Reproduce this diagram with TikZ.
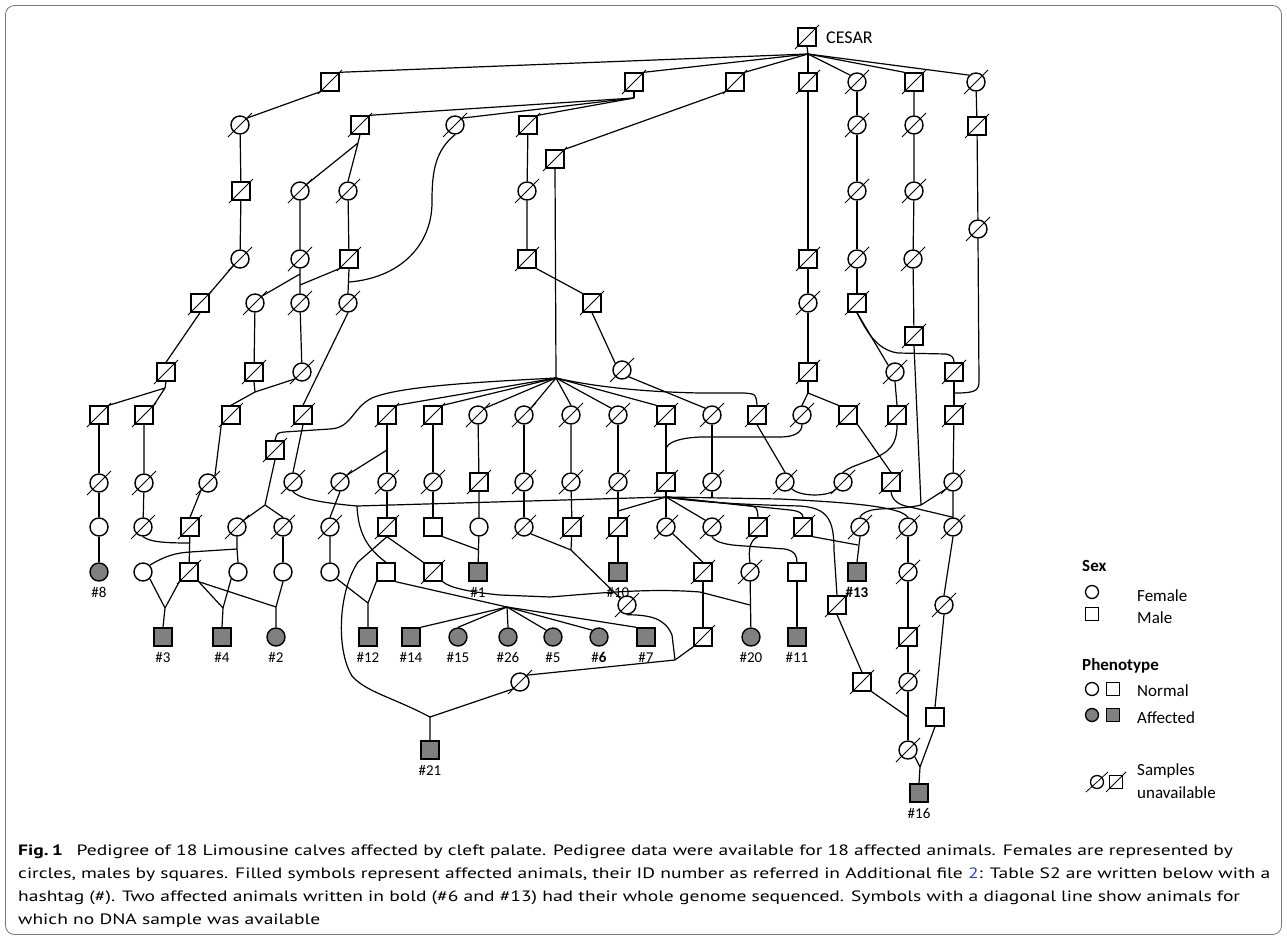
\documentclass[tikz,border=0pt]{standalone}
\usepackage{fontspec}
\setmainfont{Carlito}
\newfontfamily\capfont{PT Sans}
\usepackage{graphicx}
\usetikzlibrary{calc}
\pgfdeclarelayer{bg}
\pgfsetlayers{bg,main}
\definecolor{aff}{RGB}{128,128,128}
\definecolor{linkblue}{RGB}{40,70,210}
\definecolor{framegray}{RGB}{120,120,120}
\tikzset{
  sym/.style={draw=black, line width=1.4pt, inner sep=0pt, minimum size=18pt, fill=white},
  femsym/.style={sym, circle},
  malsym/.style={sym, rectangle},
  slashln/.style={line width=0.8pt},
  ln/.style={line width=1.2pt, line join=round},
  lab/.style={font=\fontsize{15}{15}\selectfont, inner sep=0pt},
  legtxt/.style={font=\fontsize{17}{17}\selectfont, inner sep=0pt, anchor=west},
  legsym/.style={draw=black, line width=1.3pt, inner sep=0pt, minimum size=13pt, fill=white},
}
\newcommand\nF[2]{\node[femsym] (#1) at (#2) {};}
\newcommand\nFx[2]{\node[femsym] (#1) at (#2) {};\draw[slashln] ($(#1)+(-12,12)$) -- ($(#1)+(12,-12)$);}
\newcommand\nFa[3]{\node[femsym, fill=aff] (#1) at (#2) {};\node[lab] (#1l) at ($(#1)+(0,20)$) {#3};}
\newcommand\nM[2]{\node[malsym] (#1) at (#2) {};}
\newcommand\nMx[2]{\node[malsym] (#1) at (#2) {};\draw[slashln] ($(#1)+(-12,12)$) -- ($(#1)+(12,-12)$);}
\newcommand\nMa[3]{\node[malsym, fill=aff] (#1) at (#2) {};\node[lab] (#1l) at ($(#1)+(0,20)$) {#3};}
\begin{document}
\begin{tikzpicture}[x=1pt,y=-1pt]
\useasboundingbox (0,0) rectangle (1287,940);
% frame
\draw[framegray, line width=0.8pt, rounded corners=9pt] (5.5,5.5) rectangle (1281.5,934.5);

% ---------- nodes ----------
\nMx{cesar}{807,37}
\node[font=\fontsize{18}{18}\selectfont, anchor=west, inner sep=0pt] (cesarl) at (826,38) {CESAR};
% row a
\nMx{a1}{330,82} \nMx{a2}{634,82} \nMx{a3}{735,82} \nMx{a4}{808,82}
\nFx{a5}{857,82} \nMx{a6}{914,82} \nFx{a7}{976,82}
% row b
\nFx{b1}{240,125} \nMx{b2}{360,125} \nFx{b3}{455,125} \nMx{b4}{528,125}
\nFx{b5}{857,125} \nFx{b6}{914,125} \nMx{b7}{977,126} \nMx{b8}{555,159}
% row c
\nMx{c1}{241,191} \nFx{c2}{300,191} \nFx{c3}{348,191} \nFx{c4}{527,191}
\nFx{c5}{857,191} \nFx{c6}{914,191} \nFx{c7}{978,229}
% row d
\nFx{d1}{240,259} \nFx{d2}{300,259} \nMx{d3}{349,259} \nMx{d4}{527,259}
\nMx{d5}{808,259} \nFx{d6}{857,259} \nFx{d7}{913,259}
% row e
\nMx{e1}{200,303} \nFx{e2}{255,303} \nFx{e3}{300,303} \nFx{e4}{348,303}
\nMx{e5}{592,303} \nFx{e6}{808,303} \nMx{e7}{857,303} \nMx{e8}{914,336}
% row f
\nMx{f1}{166,372} \nMx{f2}{254,372} \nFx{f3}{302,372} \nFx{f4}{622,370}
\nMx{f5}{808,372} \nFx{f6}{895,372} \nMx{f7}{954,372}
% row g
\nMx{g1}{99,415} \nMx{g2}{144,415} \nMx{g3}{231,415} \nMx{g4}{303,415}
\nMx{g5}{387,415} \nMx{g6}{433,415} \nFx{g7}{478,415} \nFx{g8}{524,415}
\nFx{g9}{571,415} \nFx{g10}{618,415} \nMx{g11}{666,415} \nFx{g12}{712,415}
\nMx{g13}{757,415} \nFx{g14}{802,415} \nMx{g15}{848,415} \nMx{g16}{897,415}
\nMx{g17}{954,415}
\nMx{h0}{275,450}
% row h
\nFx{h1}{99,483} \nFx{h2}{144,483} \nFx{h3}{208,483} \nFx{h4}{293,482}
\nFx{h5}{340,482} \nFx{h6}{387,482} \nFx{h7}{433,482} \nMx{h8}{479,482}
\nFx{h9}{524,482} \nFx{h10}{571,482} \nFx{h11}{618,482} \nMx{h12}{666,482}
\nFx{h13}{712,482} \nFx{h14}{785,482} \nFx{h15}{843,482} \nMx{h16}{891,482}
\nFx{h17}{953,482}
% row i
\nF{i1}{99,527} \nFx{i2}{143,527} \nMx{i3}{190,527} \nFx{i4}{237,527}
\nFx{i5}{283,527} \nFx{i6}{330,527} \nMx{i7}{387,527} \nM{i8}{433,527}
\nF{i9}{479,527} \nFx{i10}{524,527} \nMx{i11}{572,527} \nMx{i12}{618,527}
\nFx{i13}{666,527} \nFx{i14}{712,527} \nMx{i15}{758,527} \nMx{i16}{803,527}
\nFx{i17}{860,527} \nFx{i18}{908,527} \nFx{i19}{953,527}
% row j
\nFa{j1}{99,572}{\#8} \nF{j2}{143,572} \nMx{j3}{189,572} \nF{j4}{238,572}
\nF{j5}{283,572} \nF{j6}{330,572} \nM{j7}{386,572} \nMx{j8}{433,572}
\nMa{j9}{478,572}{\#1} \nMa{j10}{618,572}{\#10} \nMx{j11}{703,572}
\nFx{j12}{750,572} \nM{j13}{797,572} \nMa{j14}{857,572}{\textbf{\#13}}
\nFx{j15}{908,572}
\nFx{k1}{627,605} \nMx{k2}{837,605} \nFx{k3}{944,605}
% row l
\nMa{l1}{163,637}{\#3} \nMa{l2}{222,637}{\#4} \nFa{l3}{276,637}{\#2}
\nMa{l4}{368,637}{\#12} \nMa{l5}{411,637}{\#14} \nFa{l6}{458,637}{\#15}
\nFa{l7}{508,637}{\#26} \nFa{l8}{553,637}{\#5} \nFa{l9}{599,637}{\#\textbf{6}}
\nMa{l10}{646,637}{\#7} \nMx{l11}{703,637} \nFa{l12}{751,637}{\#20}
\nMa{l13}{797,637}{\#11} \nMx{l14}{908,637}
\nFx{m1}{520,682} \nMx{m2}{862,682} \nFx{m3}{908,682} \nM{m4}{935,717}
\nFx{m5}{908,750}
\nMa{n1}{430,750}{\#21} \nMa{n2}{919,793}{\#16}

% ---------- junctions ----------
\coordinate (cf) at (808,54);
\coordinate (a2j) at (634,98);
\coordinate (b2j) at (358,143);
\coordinate (d2a) at (300,274);
\coordinate (d2b) at (300,285);
\coordinate (d3j) at (349,282);
\coordinate (f1j) at (165,388);
\coordinate (f2j) at (255,392);
\coordinate (f5j) at (808,393);
\coordinate (f7j) at (954,393);
\coordinate (fan) at (556,378);
\coordinate (g5j) at (387,450);
\coordinate (h0j) at (265,505);
\coordinate (hz) at (357,506);
\coordinate (P) at (666,497);
\coordinate (g11j) at (666,450);
\coordinate (i12j) at (618,511);
\coordinate (h13j) at (712,498);
\coordinate (i3j) at (190,543);
\coordinate (i4j) at (237,549);
\coordinate (i9j) at (479,550);
\coordinate (i11j) at (571,550);
\coordinate (J) at (921,505);
\coordinate (i17j) at (858,545);
\coordinate (l1j) at (165,608);
\coordinate (l2j) at (223,608);
\coordinate (l3j) at (276,607);
\coordinate (l4j) at (368,603);
\coordinate (sj) at (507,607);
\coordinate (l12j) at (750,605);
\coordinate (m1j) at (675,660);
\coordinate (n1j) at (430,717);
\coordinate (m3j) at (908,717);
\coordinate (n2j) at (920,767);

% ---------- connectors ----------
\begin{pgfonlayer}{bg}
\draw[ln] (cesar.south) -- (cf);
\foreach \t in {a1.north east,a2.north east,a3.north east,a4.north,a5.north west,a6.north west,a7.north west}
  \draw[ln] (cf) -- (\t);
\draw[ln] (a1.south west) -- (b1.north east);
\draw[ln] (a2.south) -- (a2j);
\foreach \t in {b2.north east,b3.north east,b4.north east} \draw[ln] (a2j) -- (\t);
\draw[ln] (a3.south west) -- (b8.north east);
\draw[ln] (a4.south) -- (d5.north) (d5.south) -- (e6.north) (e6.south) -- (f5.north) (f5.south) -- (f5j);
\draw[ln] (f5j) -- (g14.north) (f5j) -- (g15.north west);
\draw[ln] (a5) -- (b5) -- (c5) -- (d6) -- (e7);
\draw[ln] (a6) -- (b6) -- (c6) -- (d7) -- (e8);
\draw[ln] (a7) -- (b7) -- (c7);
\draw[ln] (c7.south) -- (979,382) .. controls (979,392) and (972,393) .. (f7j);
\draw[ln] (f7.south) -- (g17.north);
\draw[ln] (e7.south) .. controls (866,330) and (876,350) .. (898,353) -- (946,354) .. controls (952,355) and (954,358) .. (f7.north);
\draw[ln] (e7.south) -- (f6.north west);
\draw[ln] (e8.south) -- (J);
\draw[ln] (f6.south) -- (g16.north);
\draw[ln] (b1) -- (c1) -- (d1);
\draw[ln] (b2.south) -- (b2j) -- (c2.north east) (b2j) -- (c3.north);
\draw[ln] (b3.south) .. controls (436,150) and (432,170) .. (432,200) .. controls (433,245) and (400,278) .. (d3j);
\draw[ln] (b4) -- (c4) -- (d4);
\draw[ln] (b8.south) -- (fan);
\draw[ln] (c2) -- (d2) (c3) -- (d3);
\draw[ln] (d1.south west) -- (e1.north east) (e1.south) -- (f1.north);
\draw[ln] (d2.south) -- (e3.north) (d2a) -- (e2.north east) (d2b) -- (d3.south west);
\draw[ln] (d3.south) -- (e4.north);
\draw[ln] (d4.south east) -- (e5.north west) (e5.south) -- (f4.north west) (f4.south east) -- (g12.north west);
\draw[ln] (e2) -- (f2) (e3) -- (f3);
\draw[ln] (e4.south) -- (g4.north);
\draw[ln] (f1.south) -- (f1j) -- (g1.north east) (f1j) -- (g2.north east);
\draw[ln] (f2.south) -- (f2j) -- (g3.north) (f3.south west) -- (f2j);
% fan
\foreach \t in {g5.north east,g6.north east,g7.north east,g8.north east,g9.north,g10.north west,g11.north west}
  \draw[ln] (fan) -- (\t);
\draw[ln] (fan) .. controls (480,382) and (400,386) .. (372,398) .. controls (352,408) and (352,428) .. (330,429) -- (284,432) .. controls (277,433) .. (h0.north);
\draw[ln] (fan) .. controls (600,388) and (650,392) .. (700,393) -- (744,393) .. controls (756,394) .. (g13.north);
% row g -> h
\draw[ln] (g1) -- (h1) -- (i1) -- (j1);
\draw[ln] (g2) -- (h2) -- (i2);
\draw[ln] (i2.south) .. controls (150,542) and (165,543) .. (i3j);
\draw[ln] (g3.south west) -- (h3.north east) (h3.south west) -- (i3.north);
\draw[ln] (i3) -- (j3);
\draw[ln] (h0.south) -- (h0j) -- (i4.north east) (h0j) -- (i5.north);
\draw[ln] (g4.south) -- (h4.north);
\draw[ln] (h4.south) .. controls (298,497) and (312,502) .. (hz);
\draw[ln] (hz) -- (P);
\draw[ln] (hz) .. controls (358,525) and (362,545) .. (j7.north);
\draw[ln] (g5) -- (h6) -- (i7);
\draw[ln] (g5j) -- (h5.north east);
\draw[ln] (h5.south) -- (i6.north) (i6) -- (j6);
\draw[ln] (i7.south) -- (358,562) .. controls (338,592) and (336,650) .. (352,676) .. controls (366,692) and (392,697) .. (n1j);
\draw[ln] (i7.south) -- (j8.north west);
\draw[ln] (g6) -- (h7) -- (i8);
\draw[ln] (i8.south east) -- (i9j);
\draw[ln] (g7) -- (h8) -- (i9) -- (j9);
\draw[ln] (g8) -- (h9) -- (i10);
\draw[ln] (i10.south east) -- (i11j) -- (k1.north west);
\draw[ln] (g9) -- (h10) -- (i11) -- (i11j);
\draw[ln] (g10) -- (h11) -- (i12) -- (j10);
\draw[ln] (g11) -- (h12);
\draw[ln] (g14.south) .. controls (802,432) and (795,437) .. (780,437) -- (700,437) .. controls (680,438) and (666,442) .. (g11j);
\draw[ln] (g12) -- (h13);
\draw[ln] (h13.south) -- (h13j);
\draw[ln] (g13.south) -- (h14.north);
\draw[ln] (g15.south east) -- (h16.north);
\draw[ln] (g16.south) .. controls (897,445) and (890,452) .. (870,460) -- (852,467) .. controls (846,470) .. (h15.north);
\draw[ln] (g17) -- (h17) -- (i19);
% P bundle
\draw[ln] (h12.south) -- (P);
\draw[ln] (P) -- (i12j);
\draw[ln] (P) -- (i13.north);
\draw[ln] (P) -- (i14.north west);
\draw[ln] (P) -- (750,506) .. controls (757,507) .. (i15.north);
\draw[ln] (P) -- (790,510) .. controls (800,511) and (803,514) .. (i16.north);
\draw[ln] (P) -- (780,499) .. controls (840,502) and (880,505) .. (900,512) .. controls (906,515) .. (i18.north);
\draw[ln] (P) .. controls (700,503) and (760,505) .. (800,506) .. controls (828,508) and (834,520) .. (834,550) -- (k2.north);
\draw[ln] (h14.south east) .. controls (800,497) and (830,497) .. (h15.south west);
\draw[ln] (h16.south) .. controls (892,500) and (898,505) .. (910,507) -- (i19.north);
\draw[ln] (h17.south west) -- (J);
\draw[ln] (J) .. controls (900,510) and (875,507) .. (866,512) .. controls (861,515) .. (i17.north);
% row i -> j
\draw[ln] (i4.south) -- (i4j) -- (j4.north);
\draw[ln] (j2.north east) .. controls (165,556) and (175,553) .. (190,552) -- (i4j);
\draw[ln] (i5) -- (j5);
\draw[ln] (i13.south east) -- (j11.north);
\draw[ln] (i14.south) .. controls (715,542) and (725,545) .. (745,546) -- (785,549) .. controls (795,551) and (797,556) .. (j13.north);
\draw[ln] (i15.south) .. controls (750,540) and (748,550) .. (j12.north);
\draw[ln] (i16.south east) -- (i17j);
\draw[ln] (i17.south) -- (j14.north);
\draw[ln] (i18) -- (j15) -- (l14) -- (m3) -- (m5);
\draw[ln] (i19.south) -- (k3.north) (k3.south) -- (m4.north);
\draw[ln] (m4.south) -- (n2j) (m5.south east) -- (n2j) (n2j) -- (n2.north);
\draw[ln] (k2.south) -- (m2.north) (m2.south east) -- (m3j);
\draw[ln] (j11) -- (l11);
\draw[ln] (j12) -- (l12);
\draw[ln] (j13) -- (l13);
\draw[ln] (j8.south east) .. controls (450,588) and (470,592) .. (500,595) -- (550,597) .. controls (600,593) and (650,588) .. (700,592) -- (l12j);
\draw[ln] (k1.south) .. controls (650,615) and (665,618) .. (672,635) -- (m1j);
\draw[ln] (l11.south west) -- (m1j) (m1j) -- (m1.north east);
\draw[ln] (m1.south west) -- (n1j) (n1j) -- (n1.north);
% sibships
\draw[ln] (j6.south east) -- (l4j) (j7.south west) -- (l4j) (l4j) -- (l4.north);
\draw[ln] (j7.south east) -- (sj);
\foreach \t in {l5.north east,l6.north,l7.north,l8.north west,l9.north west,l10.north west}
  \draw[ln] (sj) -- (\t);
\draw[ln] (j2.south east) -- (l1j) (j3.south west) -- (l1j) (l1j) -- (l1.north);
\draw[ln] (j3.south east) -- (l2j) (j4.south west) -- (l2j) (l2j) -- (l2.north);
\draw[ln] (j3.south east) -- (l3j) (j5.south) -- (l3j) (l3j) -- (l3.north);
\end{pgfonlayer}

% ---------- legend ----------
\node[legtxt, font=\fontsize{17}{17}\selectfont\bfseries] (lsex) at (1082,566) {Sex};
\node[legsym, circle] (lfem) at (1092,592) {};
\node[legtxt] (lfemt) at (1137,596) {Female};
\node[legsym] (lmal) at (1092,614) {};
\node[legtxt] (lmalt) at (1137,618) {Male};
\node[legtxt, font=\fontsize{17}{17}\selectfont\bfseries] (lphe) at (1082,666) {Phenotype};
\node[legsym, circle] (lnc) at (1092,689) {};
\node[legsym] (lns) at (1113,689) {};
\node[legtxt] (lnt) at (1137,691) {Normal};
\node[legsym, circle, fill=aff] (lac) at (1092,715) {};
\node[legsym, fill=aff] (las) at (1113,715) {};
\node[legtxt] (lat) at (1137,718) {Affected};
\node[legsym, circle] (lxc) at (1097,782) {};
\draw[slashln] ($(lxc)+(-11,10)$) -- ($(lxc)+(11,-10)$);
\node[legsym] (lxs) at (1116,782) {};
\draw[slashln] ($(lxs)+(-10,10)$) -- ($(lxs)+(10,-10)$);
\node[legtxt] (lxt1) at (1137,771) {Samples};
\node[legtxt] (lxt2) at (1137,793) {unavailable};

% ---------- caption ----------
\node[anchor=north west, inner sep=0pt] (cap) at (18,839) {\capfont\fontsize{15}{23}\selectfont\resizebox{1252pt}{\height}{\begin{tabular}{@{}l@{}}
\textbf{Fig.\,1}\hspace{0.7em}Pedigree of 18 Limousine calves affected by cleft palate. Pedigree data were available for 18 affected animals. Females are represented by\\
circles, males by squares. Filled symbols represent affected animals, their ID number as referred in Additional file \textcolor{linkblue}{2}: Table S2 are written below with a\\
hashtag (\#). Two affected animals written in bold (\#6 and \#13) had their whole genome sequenced. Symbols with a diagonal line show animals for\\
which no DNA sample was available
\end{tabular}}};
\end{tikzpicture}
\end{document}
